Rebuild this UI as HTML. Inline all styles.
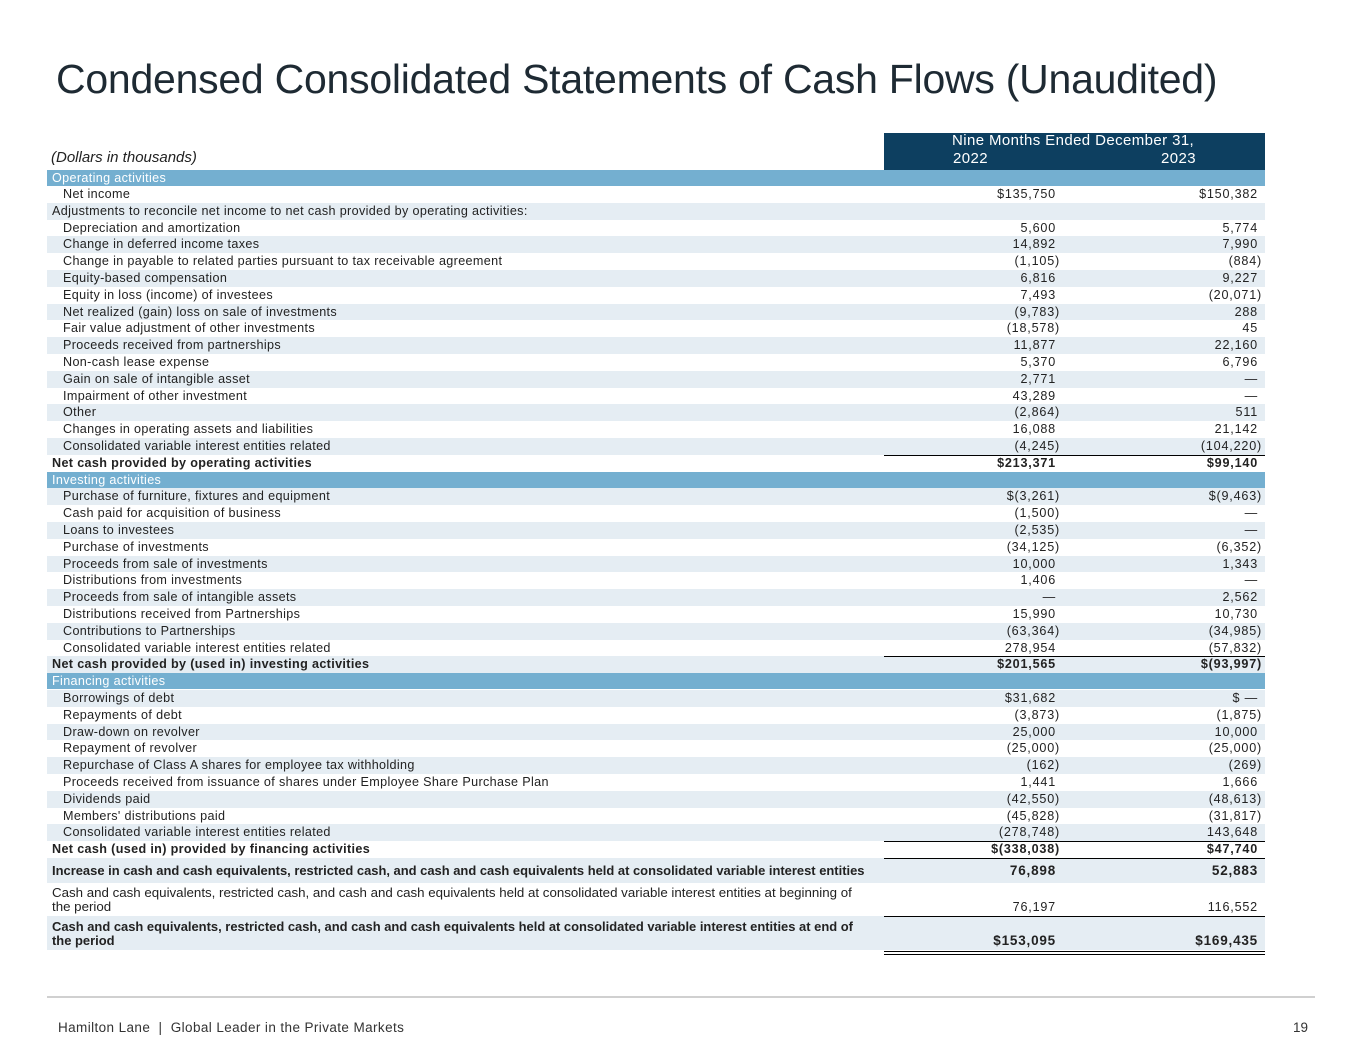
<!DOCTYPE html>
<html><head><meta charset="utf-8"><style>
*{margin:0;padding:0;box-sizing:border-box}
body{width:1365px;height:1055px;background:#fff;position:relative;font-family:"Liberation Sans",sans-serif;color:#222;overflow:hidden}
.title{position:absolute;left:56px;top:56px;font-size:41px;color:#1e2a33;letter-spacing:-0.25px;white-space:nowrap}
.hdr{position:absolute;left:884px;top:133px;width:381px;height:37px;background:#0d3f60;color:#fff;font-size:15px;letter-spacing:0.4px}
.dl{position:absolute;left:51px;top:149px;font-size:15px;font-style:italic;color:#222}
.r{position:absolute;left:47px;width:1218px;height:16.8px;font-size:12.6px;line-height:16.8px;white-space:nowrap;letter-spacing:0.35px}
.r.s{background:#e5edf3}
.r.h{background:#74afd0;color:#fff;height:16px;line-height:16px}
.r .l{position:absolute;left:5px}
.r .l.i{left:16px}
.r .a,.r .b{letter-spacing:0.8px}
.r .a{position:absolute;right:205px}
.r .b{position:absolute;right:3px}
.r .a.n{right:209px}
.r .b.n{right:7px}
.r.t{font-weight:bold}
.r.t .ln{position:absolute;left:837px;right:0;top:0;border-top:1px solid #000}
</style></head><body>
<div class="title">Condensed Consolidated Statements of Cash Flows (Unaudited)</div>
<div class="dl">(Dollars in thousands)</div>
<div class="hdr">
<div style="position:absolute;left:68px;top:-1px">Nine Months Ended December 31,</div>
<div style="position:absolute;left:69px;top:17px">2022</div>
<div style="position:absolute;right:69px;top:17px">2023</div>
</div>

<div class="r h" style="top:170px"><span class="l">Operating activities</span></div>
<div class="r" style="top:186px"><span class="l i">Net income</span><span class="a n">$135,750</span><span class="b n">$150,382</span></div>
<div class="r s" style="top:202.8px"><span class="l">Adjustments to reconcile net income to net cash provided by operating activities:</span></div>
<div class="r" style="top:219.6px"><span class="l i">Depreciation and amortization</span><span class="a n">5,600</span><span class="b n">5,774</span></div>
<div class="r s" style="top:236.4px"><span class="l i">Change in deferred income taxes</span><span class="a n">14,892</span><span class="b n">7,990</span></div>
<div class="r" style="top:253.2px"><span class="l i">Change in payable to related parties pursuant to tax receivable agreement</span><span class="a">(1,105)</span><span class="b">(884)</span></div>
<div class="r s" style="top:270px"><span class="l i">Equity-based compensation</span><span class="a n">6,816</span><span class="b n">9,227</span></div>
<div class="r" style="top:286.8px"><span class="l i">Equity in loss (income) of investees</span><span class="a n">7,493</span><span class="b">(20,071)</span></div>
<div class="r s" style="top:303.6px"><span class="l i">Net realized (gain) loss on sale of investments</span><span class="a">(9,783)</span><span class="b n">288</span></div>
<div class="r" style="top:320.4px"><span class="l i">Fair value adjustment of other investments</span><span class="a">(18,578)</span><span class="b n">45</span></div>
<div class="r s" style="top:337.2px"><span class="l i">Proceeds received from partnerships</span><span class="a n">11,877</span><span class="b n">22,160</span></div>
<div class="r" style="top:354px"><span class="l i">Non-cash lease expense</span><span class="a n">5,370</span><span class="b n">6,796</span></div>
<div class="r s" style="top:370.8px"><span class="l i">Gain on sale of intangible asset</span><span class="a n">2,771</span><span class="b n">—</span></div>
<div class="r" style="top:387.6px"><span class="l i">Impairment of other investment</span><span class="a n">43,289</span><span class="b n">—</span></div>
<div class="r s" style="top:404.4px"><span class="l i">Other</span><span class="a">(2,864)</span><span class="b n">511</span></div>
<div class="r" style="top:421.2px"><span class="l i">Changes in operating assets and liabilities</span><span class="a n">16,088</span><span class="b n">21,142</span></div>
<div class="r s" style="top:438px"><span class="l i">Consolidated variable interest entities related</span><span class="a">(4,245)</span><span class="b">(104,220)</span></div>
<div class="r t" style="top:454.8px"><span class="ln"></span><span class="l">Net cash provided by operating activities</span><span class="a n">$213,371</span><span class="b n">$99,140</span></div>

<div class="r h" style="top:471.6px"><span class="l">Investing activities</span></div>
<div class="r s" style="top:488.4px"><span class="l i">Purchase of furniture, fixtures and equipment</span><span class="a">$(3,261)</span><span class="b">$(9,463)</span></div>
<div class="r" style="top:505.2px"><span class="l i">Cash paid for acquisition of business</span><span class="a">(1,500)</span><span class="b n">—</span></div>
<div class="r s" style="top:522px"><span class="l i">Loans to investees</span><span class="a">(2,535)</span><span class="b n">—</span></div>
<div class="r" style="top:538.8px"><span class="l i">Purchase of investments</span><span class="a">(34,125)</span><span class="b">(6,352)</span></div>
<div class="r s" style="top:555.6px"><span class="l i">Proceeds from sale of investments</span><span class="a n">10,000</span><span class="b n">1,343</span></div>
<div class="r" style="top:572.4px"><span class="l i">Distributions from investments</span><span class="a n">1,406</span><span class="b n">—</span></div>
<div class="r s" style="top:589.2px"><span class="l i">Proceeds from sale of intangible assets</span><span class="a n">—</span><span class="b n">2,562</span></div>
<div class="r" style="top:606px"><span class="l i">Distributions received from Partnerships</span><span class="a n">15,990</span><span class="b n">10,730</span></div>
<div class="r s" style="top:622.8px"><span class="l i">Contributions to Partnerships</span><span class="a">(63,364)</span><span class="b">(34,985)</span></div>
<div class="r" style="top:639.6px"><span class="l i">Consolidated variable interest entities related</span><span class="a n">278,954</span><span class="b">(57,832)</span></div>
<div class="r s t" style="top:656.4px"><span class="ln"></span><span class="l">Net cash provided by (used in) investing activities</span><span class="a n">$201,565</span><span class="b">$(93,997)</span></div>

<div class="r h" style="top:673.2px"><span class="l">Financing activities</span></div>
<div class="r s" style="top:690px"><span class="l i">Borrowings of debt</span><span class="a n">$31,682</span><span class="b n">$ —</span></div>
<div class="r" style="top:706.8px"><span class="l i">Repayments of debt</span><span class="a">(3,873)</span><span class="b">(1,875)</span></div>
<div class="r s" style="top:723.6px"><span class="l i">Draw-down on revolver</span><span class="a n">25,000</span><span class="b n">10,000</span></div>
<div class="r" style="top:740.4px"><span class="l i">Repayment of revolver</span><span class="a">(25,000)</span><span class="b">(25,000)</span></div>
<div class="r s" style="top:757.2px"><span class="l i">Repurchase of Class A shares for employee tax withholding</span><span class="a">(162)</span><span class="b">(269)</span></div>
<div class="r" style="top:774px"><span class="l i">Proceeds received from issuance of shares under Employee Share Purchase Plan</span><span class="a n">1,441</span><span class="b n">1,666</span></div>
<div class="r s" style="top:790.8px"><span class="l i">Dividends paid</span><span class="a">(42,550)</span><span class="b">(48,613)</span></div>
<div class="r" style="top:807.6px"><span class="l i">Members' distributions paid</span><span class="a">(45,828)</span><span class="b">(31,817)</span></div>
<div class="r s" style="top:824.4px"><span class="l i">Consolidated variable interest entities related</span><span class="a">(278,748)</span><span class="b n">143,648</span></div>
<div class="r t" style="top:841.2px"><span class="ln"></span><span class="l">Net cash (used in) provided by financing activities</span><span class="a">$(338,038)</span><span class="b n">$47,740</span></div>

<div class="r s t" style="top:858px;height:25px;line-height:25px;font-size:12.95px;letter-spacing:0"><span class="ln"></span><span class="l">Increase in cash and cash equivalents, restricted cash, and cash and cash equivalents held at consolidated variable interest entities</span><span class="a n" style="font-size:13.5px">76,898</span><span class="b n" style="font-size:13.5px">52,883</span></div>
<div class="r" style="top:883px;height:33px;line-height:14px;font-size:13.3px;letter-spacing:0"><span class="l" style="top:3px">Cash and cash equivalents, restricted cash, and cash and cash equivalents held at consolidated variable interest entities at beginning of<br>the period</span><span class="a n" style="top:17px;font-size:12.6px">76,197</span><span class="b n" style="top:17px;font-size:12.6px">116,552</span></div>
<div class="r s t" style="top:916px;height:34px;line-height:14px;font-size:12.95px;letter-spacing:0"><span class="ln"></span><span class="l" style="top:4px">Cash and cash equivalents, restricted cash, and cash and cash equivalents held at consolidated variable interest entities at end of<br>the period</span><span class="a n" style="top:18px;font-size:13.5px">$153,095</span><span class="b n" style="top:18px;font-size:13.5px">$169,435</span></div>
<div style="position:absolute;left:884px;top:951px;width:381px;height:4px;border-top:1px solid #000;border-bottom:1px solid #000"></div>

<div style="position:absolute;left:47px;top:996px;width:1268px;height:2px;background:#d0d0d0"></div>
<div style="position:absolute;left:58px;top:1020px;font-size:13.5px;color:#333;letter-spacing:0.4px;white-space:nowrap">Hamilton Lane &nbsp;|&nbsp; Global Leader in the Private Markets</div>
<div style="position:absolute;left:1293px;top:1020px;font-size:13.5px;color:#333">19</div>
</body></html>
